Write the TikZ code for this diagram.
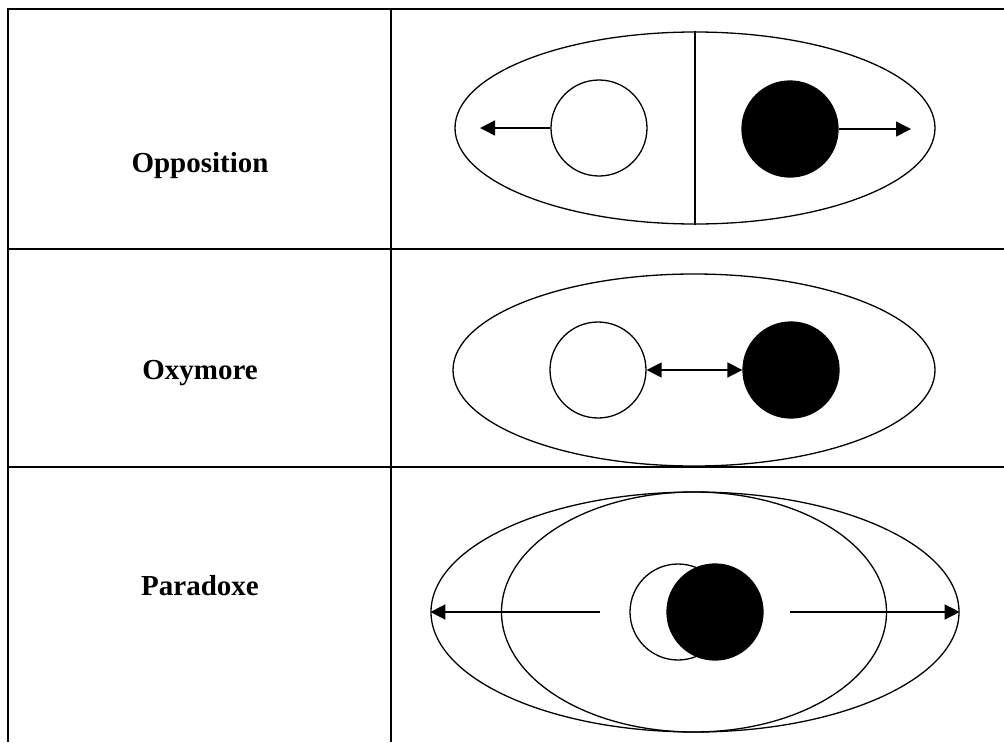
\documentclass[tikz,border=0pt]{standalone}
\usepackage{fontspec}
\setmainfont{Liberation Serif}
\usetikzlibrary{shapes.geometric,arrows.meta}

\begin{document}
\begin{tikzpicture}[x=1pt,y=-1pt]
        % Common styles
        \tikzstyle{tableline}=[line width=2.6pt]
        \tikzstyle{outline}=[draw, line width=1.3pt]
        \tikzstyle{oval}=[outline, ellipse, inner sep=0pt]
        \tikzstyle{pole}=[outline, circle, inner sep=0pt, minimum size=96pt]
        \tikzstyle{pushed}=[line width=1.6pt, -{Triangle[length=15pt,width=15pt]}]
        \tikzstyle{rowname}=[anchor=base, font=\fontsize{29}{34}\selectfont\bfseries]

        \useasboundingbox (0,0) rectangle (1004,742);

        % --- Table rules ---
        \draw[tableline] (6.7,9) -- (1004,9);
        \draw[tableline] (6.7,249) -- (1004,249);
        \draw[tableline] (6.7,467) -- (1004,467);
        \draw[tableline] (8,9) -- (8,742);
        \draw[tableline] (391,9) -- (391,742);

        % --- Row names ---
        \node[rowname] (oppName) at (200,172) {Opposition};
        \node[rowname] (oxyName) at (200,379) {Oxymore};
        \node[rowname] (parName) at (200,595) {Paradoxe};

        % --- Opposition: split shell, poles pushed apart ---
        \node[oval, minimum width=480pt, minimum height=192pt] (oppShell) at (695,128) {};
        \draw[outline] (oppShell.north) -- (oppShell.south);
        \node[pole, fill=white] (oppWhite) at (599,128) {};
        \node[pole, fill=black] (oppBlack) at (790,129) {};
        \coordinate (oppLeft) at (480,128);
        \coordinate (oppRight) at (911,129);
        \draw[pushed] (oppWhite.west) -- (oppLeft);
        \draw[pushed] (oppBlack.east) -- (oppRight);

        % --- Oxymore: one shell, poles tied together ---
        \node[oval, minimum width=482pt, minimum height=192pt] (oxyShell) at (694,370) {};
        \node[pole, fill=white] (oxyWhite) at (598,370) {};
        \node[pole, fill=black] (oxyBlack) at (791,370) {};
        \draw[pushed, {Triangle[length=15pt,width=15pt]}-{Triangle[length=15pt,width=15pt]}] (oxyWhite) -- (oxyBlack);

        % --- Paradoxe: nested shells, overlapping poles ---
        \node[oval, minimum width=528pt, minimum height=240pt] (parOuter) at (695,612) {};
        \node[oval, minimum width=385pt, minimum height=240pt] (parInner) at (694,612) {};
        \node[pole, fill=white] (parWhite) at (678,612) {};
        \node[pole, fill=black] (parBlack) at (715,612) {};
        \coordinate (parLeft) at (600,612);
        \coordinate (parRight) at (790,612);
        \draw[pushed] (parLeft) -- (parOuter.west);
        \draw[pushed] (parRight) -- (parOuter.east);

    \end{tikzpicture}
\end{document}
